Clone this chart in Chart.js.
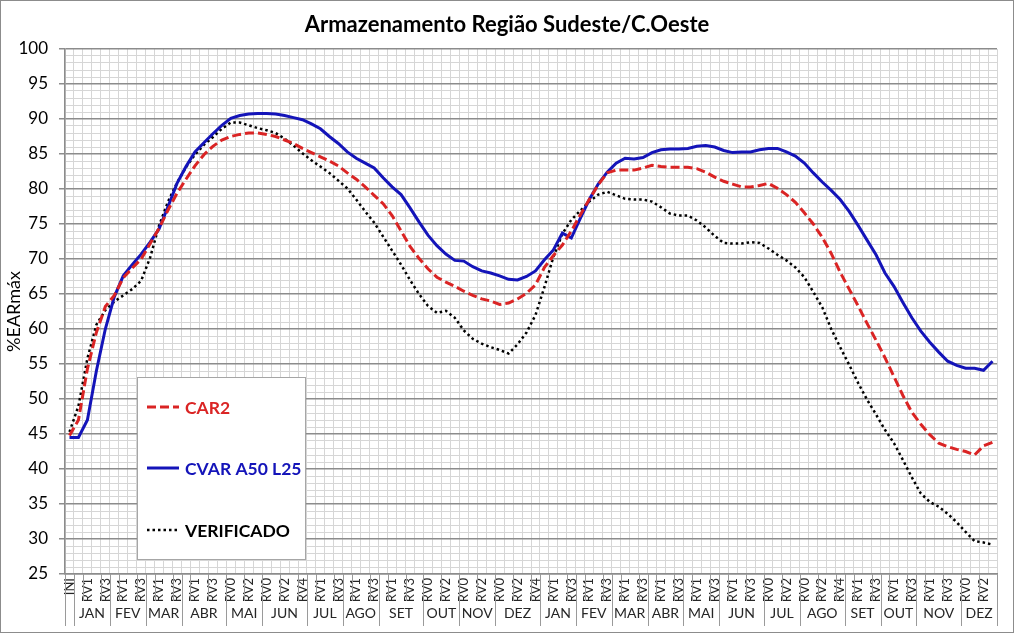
<!DOCTYPE html>
<html>
<head>
<meta charset="utf-8">
<title>Armazenamento Região Sudeste/C.Oeste</title>
<script src="https://cdn.jsdelivr.net/npm/chart.js@4/dist/chart.umd.min.js"></script>
<style>
  html, body { margin: 0; padding: 0; background: #fff; }
  #wrap { width: 1014px; height: 633px; }
</style>
</head>
<body>
<div id="wrap"><canvas id="chart" width="1014" height="633"></canvas></div>
<script>
// Month groups of the category axis (two years, weekly revisions RV0..RVn)
const monthNames = ['JAN', 'FEV', 'MAR', 'ABR', 'MAI', 'JUN', 'JUL', 'AGO', 'SET', 'OUT', 'NOV', 'DEZ']
const weeksYear1 = [4, 4, 4, 5, 4, 5, 4, 4, 5, 4, 4, 5]
const weeksYear2 = [4, 4, 4, 4, 4, 5, 4, 5, 4, 4, 5, 4]

// Series values (%EARmáx), one per category, starting at INI
const car2 = [
  44.8, 47.0, 54.3, 59.5, 63.2, 64.8, 67.3, 68.7, 70.0, 72.2, 74.4, 77.0, 79.4, 81.4, 83.3, 84.9,
  86.1, 87.0, 87.5, 87.8, 88.0, 88.0, 87.8, 87.5, 87.0, 86.5, 85.8, 85.2, 84.6, 84.0, 83.3, 82.3,
  81.4, 80.3, 79.1, 77.9, 76.2, 74.0, 71.8, 70.1, 68.6, 67.4, 66.7, 66.1, 65.4, 64.8, 64.3, 64.0,
  63.5, 63.7, 64.3, 65.1, 66.3, 68.8, 70.5, 72.0, 74.0, 76.3, 78.5, 80.6, 82.3, 82.7, 82.7, 82.7,
  83.0, 83.4, 83.2, 83.1, 83.1, 83.1, 82.9, 82.4, 81.7, 81.1, 80.7, 80.3, 80.3, 80.5, 80.8, 80.1,
  79.2, 78.1, 76.6, 75.0, 73.1, 70.8, 68.1, 65.7, 63.3, 60.8, 58.4, 55.9, 53.2, 50.5, 48.1, 46.4,
  44.9, 43.7, 43.2, 42.8, 42.5, 42.0, 43.3, 43.8
]
const cvarA50L25 = [
  44.5, 44.5, 47.0, 54.0, 60.0, 64.6, 67.6, 69.2, 70.7, 72.4, 74.3, 77.5, 80.8, 83.2, 85.3, 86.6,
  87.9, 89.1, 90.1, 90.5, 90.7, 90.8, 90.8, 90.7, 90.5, 90.2, 89.9, 89.3, 88.6, 87.5, 86.5, 85.3,
  84.4, 83.7, 83.0, 81.6, 80.3, 79.2, 77.3, 75.3, 73.4, 71.9, 70.7, 69.8, 69.7, 68.9, 68.3, 68.0,
  67.6, 67.1, 67.0, 67.5, 68.3, 69.9, 71.3, 73.7, 73.0, 75.8, 78.5, 80.7, 82.4, 83.7, 84.4, 84.3,
  84.5, 85.2, 85.6, 85.7, 85.7, 85.8, 86.1, 86.2, 86.0, 85.5, 85.2, 85.3, 85.3, 85.6, 85.8, 85.8,
  85.3, 84.7, 83.7, 82.3, 81.0, 79.8, 78.5, 76.8, 74.8, 72.7, 70.6, 68.0, 66.1, 63.8, 61.6, 59.7,
  58.1, 56.7, 55.4, 54.8, 54.4, 54.4, 54.1, 55.4
]
const verificado = [
  45.3, 49.0, 55.8, 60.6, 62.7, 63.9, 64.8, 65.7, 66.9, 70.2, 74.8, 78.2, 80.9, 83.1, 84.9, 86.3,
  87.4, 88.6, 89.5, 89.5, 89.1, 88.7, 88.4, 88.0, 87.2, 86.2, 85.1, 84.1, 83.2, 82.3, 81.2, 80.1,
  78.5, 76.8, 75.2, 73.2, 71.2, 69.2, 67.0, 65.0, 63.3, 62.3, 62.6, 61.6, 59.8, 58.6, 57.9, 57.4,
  57.0, 56.5, 57.8, 59.5, 62.0, 66.0, 70.3, 73.6, 75.6, 76.9, 78.2, 79.2, 79.6, 79.1, 78.6, 78.5,
  78.5, 78.2, 77.4, 76.5, 76.2, 76.2, 75.5, 74.5, 73.3, 72.3, 72.2, 72.2, 72.4, 72.3, 71.5, 70.6,
  69.8, 68.8, 67.4, 65.3, 63.1, 60.0, 57.4, 54.9, 52.3, 49.9, 47.8, 45.6, 43.7, 41.3, 38.8, 36.5,
  35.3, 34.6, 33.6, 32.4, 31.0, 29.7, 29.5, 29.2
]

// Build the category labels and the month groups from the arrays above
const weekLabels = ['INI']
const monthGroups = []
;[weeksYear1, weeksYear2].forEach(counts => {
  counts.forEach((n, m) => {
    const start = weekLabels.length
    for (let k = 0; k < n; k++) weekLabels.push('RV' + k)
    monthGroups.push({ name: monthNames[m], start, end: start + n })
  })
})

const FONT = 'Lato, Calibri, "Open Sans", sans-serif'

// White background and outer border of the chart area
const frame = {
  id: 'frame',
  beforeDraw(chart) {
    const ctx = chart.ctx
    ctx.save()
    ctx.fillStyle = '#fff'
    ctx.fillRect(0, 0, chart.width, chart.height)
    ctx.restore()
  },
  afterDraw(chart) {
    const ctx = chart.ctx
    ctx.save()
    ctx.strokeStyle = '#8c8c8c'
    ctx.lineWidth = 1
    ctx.strokeRect(0.5, 0.5, chart.width - 1, chart.height - 1)
    ctx.restore()
  }
}

// Two-level category axis: tick separators and month names under the week labels
const monthAxis = {
  id: 'monthAxis',
  afterDraw(chart) {
    const x = chart.scales.x
    const ctx = chart.ctx
    const edge = b => Math.round(x.getPixelForValue(b - 0.5)) + 0.5
    const top = x.top
    ctx.save()
    ctx.strokeStyle = '#9a9a9a'
    ctx.lineWidth = 1
    // short separators every second category
    for (let b = 0; b <= weekLabels.length; b += 2) {
      ctx.beginPath()
      ctx.moveTo(edge(b), top)
      ctx.lineTo(edge(b), top + 27)
      ctx.stroke()
    }
    // long separators at month boundaries
    const bounds = [0, ...monthGroups.map(g => g.start), weekLabels.length]
    bounds.forEach(b => {
      ctx.beginPath()
      ctx.moveTo(edge(b), top)
      ctx.lineTo(edge(b), top + 52)
      ctx.stroke()
    })
    ctx.fillStyle = '#262626'
    ctx.font = '14px ' + FONT
    ctx.textAlign = 'center'
    ctx.textBaseline = 'middle'
    monthGroups.forEach(g => {
      const cx = (x.getPixelForValue(g.start - 0.5) + x.getPixelForValue(g.end - 0.5)) / 2
      ctx.fillText(g.name, cx, top + 39)
    })
    ctx.restore()
  }
}

// Legend box drawn inside the plot area
const boxLegend = {
  id: 'boxLegend',
  afterDatasetsDraw(chart) {
    const ctx = chart.ctx
    ctx.save()
    ctx.fillStyle = '#fff'
    ctx.strokeStyle = '#a6a6a6'
    ctx.lineWidth = 1
    ctx.fillRect(137, 377, 168, 182)
    ctx.strokeRect(137.5, 377.5, 168, 182)
    const rows = [407, 468, 530]
    chart.data.datasets.forEach((ds, i) => {
      const y = rows[i]
      ctx.beginPath()
      ctx.setLineDash(ds.borderDash || [])
      ctx.strokeStyle = ds.borderColor
      ctx.lineWidth = ds.borderWidth
      ctx.moveTo(147, y)
      ctx.lineTo(179, y)
      ctx.stroke()
      ctx.setLineDash([])
      ctx.fillStyle = ds.borderColor
      ctx.font = 'bold 17.5px ' + FONT
      ctx.textAlign = 'left'
      ctx.textBaseline = 'middle'
      ctx.fillText(ds.label, 185, y + 1)
    })
    ctx.restore()
  }
}

new Chart(document.getElementById('chart'), {
  type: 'line',
  data: {
    labels: weekLabels,
    datasets: [
      {
        label: 'CAR2',
        data: car2,
        borderColor: 'rgb(218, 36, 36)',
        borderWidth: 3,
        borderDash: [9, 4],
        pointRadius: 0,
        tension: 0
      },
      {
        label: 'CVAR A50 L25',
        data: cvarA50L25,
        borderColor: 'rgb(20, 20, 185)',
        borderWidth: 3,
        pointRadius: 0,
        tension: 0
      },
      {
        label: 'VERIFICADO',
        data: verificado,
        borderColor: '#000',
        borderWidth: 2.5,
        borderDash: [2.5, 3],
        pointRadius: 0,
        tension: 0
      }
    ]
  },
  options: {
    responsive: false,
    animation: false,
    layout: { padding: 0 },
    plugins: {
      legend: { display: false },
      tooltip: { enabled: false },
      title: {
        display: true,
        text: 'Armazenamento Região Sudeste/C.Oeste',
        color: '#000',
        font: { family: FONT, size: 22, weight: 'bold', lineHeight: 1.2 },
        padding: { top: 12, bottom: 10.6 }
      }
    },
    scales: {
      x: {
        type: 'category',
        offset: true,
        grid: {
          offset: true,
          color: '#d6d6d6',
          lineWidth: 1,
          drawTicks: false
        },
        border: { color: '#8c8c8c', width: 1.5 },
        ticks: {
          autoSkip: false,
          minRotation: 90,
          maxRotation: 90,
          padding: 4,
          color: '#262626',
          font: { family: FONT, size: 13 },
          callback: function(value, index) {
            return index % 2 === 0 ? weekLabels[index] : ''
          }
        },
        afterFit(scale) { scale.height = 59 }
      },
      y: {
        min: 25,
        max: 100,
        grid: {
          color: ctx => (ctx.tick && ctx.tick.value % 5 === 0) ? '#8c8c8c' : '#d6d6d6',
          lineWidth: ctx => (ctx.tick && ctx.tick.value % 5 === 0) ? 1.5 : 1,
          tickColor: ctx => (ctx.tick && ctx.tick.value % 5 === 0) ? '#8c8c8c' : 'rgba(0,0,0,0)',
          tickLength: 6
        },
        border: { color: '#8c8c8c', width: 1.5 },
        ticks: {
          stepSize: 1,
          autoSkip: false,
          padding: 11,
          color: '#000',
          font: { family: FONT, size: 17 },
          callback: value => value % 5 === 0 ? value : ''
        },
        title: {
          display: true,
          text: '%EARmáx',
          color: '#000',
          font: { family: FONT, size: 18 },
          padding: { top: 3, bottom: 0 }
        },
        afterFit(scale) { scale.width = 65 }
      },
      // empty right margin so the title stays centred on the whole picture
      yRight: {
        position: 'right',
        min: 25,
        max: 100,
        grid: { display: false, drawOnChartArea: false },
        border: { display: false },
        ticks: { display: false },
        afterFit(scale) { scale.width = 17 }
      }
    }
  },
  plugins: [frame, monthAxis, boxLegend]
})
</script>
</body>
</html>
